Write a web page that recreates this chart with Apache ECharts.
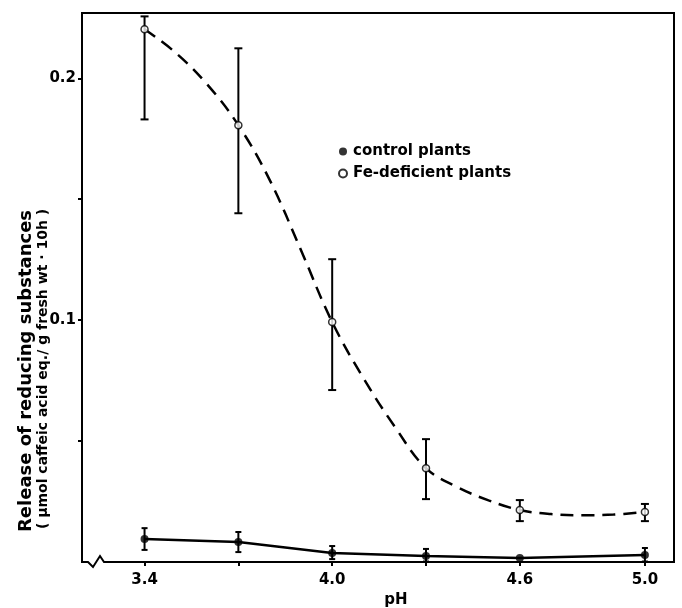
<!DOCTYPE html>
<html>
<head>
<meta charset="utf-8">
<script src="https://cdn.jsdelivr.net/npm/echarts@6/dist/echarts.min.js"></script>
<style>
  html, body { margin: 0; padding: 0; background: #fff; }
  #chart { width: 682px; height: 608px; }
</style>
</head>
<body>
<div id="chart"></div>
<script>
// pH values of the measurements
const phValues = [3.4, 3.7, 4.0, 4.3, 4.6, 5.0];

// control plants (filled circles)
const controlMean = [0.0095, 0.0083, 0.0037, 0.0025, 0.0017, 0.0029];
const controlLow = [0.0050, 0.0041, 0.0012, 0.0002, null, 0.0002];
const controlHigh = [0.0140, 0.0124, 0.0066, 0.0054, null, 0.0058];

// Fe-deficient plants (open circles)
const feMean = [0.2203, 0.1806, 0.0992, 0.0388, 0.0215, 0.0207];
const feLow = [0.1830, 0.1442, 0.0711, 0.0260, 0.0169, 0.0169];
const feHigh = [0.2256, 0.2124, 0.1252, 0.0508, 0.0256, 0.0240];

// dashed fitted curve
const curvePh = [3.4, 3.5, 3.6, 3.7, 3.8, 3.9, 4.0, 4.1, 4.2, 4.3, 4.4, 4.5, 4.6, 4.7, 4.8, 4.9, 5.0];
const curveVal = [0.2203, 0.2105, 0.1975, 0.1806, 0.158, 0.129, 0.0992, 0.076, 0.056, 0.0388, 0.031, 0.0255, 0.0215, 0.0198, 0.0193, 0.0196, 0.0207];

// axis ticks / labels
const xTicks = [3.4, 3.7, 4.0, 4.3, 4.6, 5.0];
const xLabels = [3.4, 4.0, 4.6, 5.0];
const yTicks = [0.05, 0.1, 0.15, 0.2];
const yLabels = [0.1, 0.2];

const FONT = 'DejaVu Sans';

function errorData(low, high) {
  const out = [];
  phValues.forEach((ph, i) => {
    if (low[i] != null && high[i] != null) out.push([ph, low[i], high[i]]);
  });
  return out;
}

function errorBarRender(capHalf) {
  return function (params, api) {
    const x = api.value(0);
    const lo = api.coord([x, api.value(1)]);
    const hi = api.coord([x, api.value(2)]);
    const style = { stroke: '#000', lineWidth: 2 };
    return {
      type: 'group',
      children: [
        { type: 'line', shape: { x1: lo[0], y1: lo[1], x2: hi[0], y2: hi[1] }, style },
        { type: 'line', shape: { x1: lo[0] - capHalf, y1: lo[1], x2: lo[0] + capHalf, y2: lo[1] }, style },
        { type: 'line', shape: { x1: hi[0] - capHalf, y1: hi[1], x2: hi[0] + capHalf, y2: hi[1] }, style }
      ]
    };
  };
}

function boldText(id, x, y, text, size, rotation) {
  return {
    id,
    type: 'text',
    x,
    y,
    rotation: rotation || 0,
    style: {
      text,
      fontFamily: FONT,
      fontWeight: 'bold',
      fontSize: size,
      fill: '#000',
      align: 'center',
      verticalAlign: 'middle'
    },
    z: 20
  };
}

const chart = echarts.init(document.getElementById('chart'));

chart.setOption({
  backgroundColor: '#fff',
  animation: false,
  grid: {
    left: 82,
    right: 8,
    top: 13,
    bottom: 46,
    show: true,
    borderColor: '#000',
    borderWidth: 2,
    backgroundColor: 'transparent'
  },
  legend: {
    data: ['control plants', 'Fe-deficient plants'],
    orient: 'vertical',
    left: 338,
    top: 143,
    padding: 0,
    itemWidth: 10,
    itemHeight: 8,
    itemGap: 5,
    icon: 'circle',
    textStyle: { fontFamily: FONT, fontWeight: 'bold', fontSize: 15, color: '#000', lineHeight: 17 }
  },
  xAxis: {
    type: 'value',
    min: 3.2,
    max: 5.093,
    splitLine: { show: false },
    axisLine: { lineStyle: { color: '#000', width: 2 } },
    axisTick: { customValues: xTicks, length: 4, lineStyle: { color: '#000', width: 2 } },
    axisLabel: {
      customValues: xLabels,
      formatter: v => v.toFixed(1),
      margin: 11,
      color: '#000',
      fontFamily: FONT,
      fontWeight: 'bold',
      fontSize: 15
    }
  },
  yAxis: {
    type: 'value',
    min: 0,
    max: 0.227,
    splitLine: { show: false },
    axisLine: { lineStyle: { color: '#000', width: 2 } },
    axisTick: { customValues: yTicks, length: 4, lineStyle: { color: '#000', width: 2 } },
    axisLabel: {
      customValues: yLabels,
      formatter: v => v.toFixed(1),
      margin: 6,
      color: '#000',
      fontFamily: FONT,
      fontWeight: 'bold',
      fontSize: 15
    }
  },
  series: [
    {
      name: 'fit',
      type: 'line',
      smooth: 0.4,
      symbol: 'none',
      data: curvePh.map((ph, i) => [ph, curveVal[i]]),
      lineStyle: { color: '#000', width: 2.5, type: [13, 8] },
      z: 2
    },
    {
      name: 'control line',
      type: 'line',
      symbol: 'none',
      data: phValues.map((ph, i) => [ph, controlMean[i]]),
      lineStyle: { color: '#000', width: 2.5 },
      z: 2
    },
    {
      name: 'fe error',
      type: 'custom',
      renderItem: errorBarRender(4),
      data: errorData(feLow, feHigh),
      z: 3
    },
    {
      name: 'control error',
      type: 'custom',
      renderItem: errorBarRender(3),
      data: errorData(controlLow, controlHigh),
      z: 3
    },
    {
      name: 'control plants',
      type: 'scatter',
      symbol: 'circle',
      symbolSize: 8,
      data: phValues.map((ph, i) => [ph, controlMean[i]]),
      itemStyle: { color: '#000' },
      z: 5
    },
    {
      name: 'Fe-deficient plants',
      type: 'scatter',
      symbol: 'circle',
      symbolSize: 7,
      data: phValues.map((ph, i) => [ph, feMean[i]]),
      itemStyle: { color: '#fff', borderColor: '#000', borderWidth: 1.5 },
      z: 5
    }
  ]
});

// titles plus the axis break mark, placed relative to the axis origin
const origin = chart.convertToPixel({ gridIndex: 0 }, [3.2, 0]);
const ox = origin[0], oy = origin[1];
chart.setOption({
  graphic: [
    boldText('ytitle1', 26, 371, 'Release of reducing substances', 18, Math.PI / 2),
    boldText('ytitle2', 43, 369, '( µmol caffeic acid eq./ g fresh wt · 10h )', 14, Math.PI / 2),
    boldText('xtitle', 396, 600, 'pH', 15, 0),
    {
      id: 'breakMask',
      type: 'line',
      shape: { x1: ox + 4, y1: oy, x2: ox + 22, y2: oy },
      style: { stroke: '#fff', lineWidth: 4 },
      z: 10
    },
    {
      id: 'breakMark',
      type: 'polyline',
      shape: { points: [[ox + 2, oy], [ox + 6, oy], [ox + 11, oy + 5], [ox + 18, oy - 6], [ox + 22, oy], [ox + 24, oy]] },
      style: { stroke: '#000', lineWidth: 2, fill: null },
      z: 11
    }
  ]
});
</script>
</body>
</html>
